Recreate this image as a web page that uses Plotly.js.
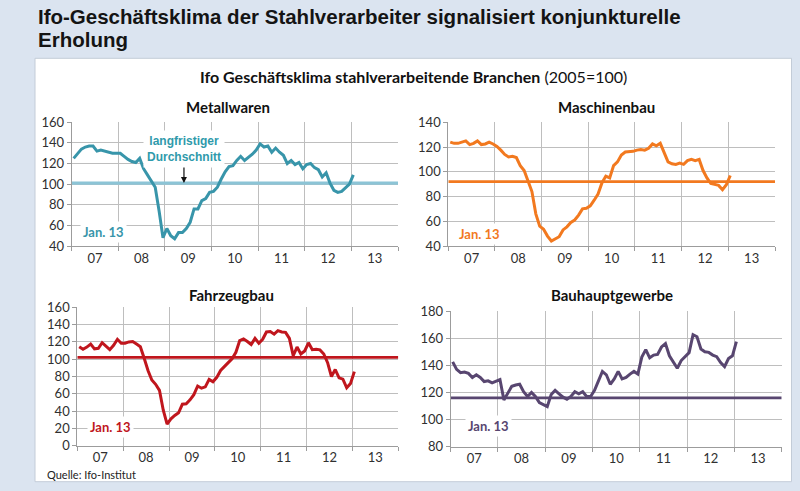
<!DOCTYPE html>
<html><head><meta charset="utf-8">
<script src="https://cdn.plot.ly/plotly-3.0.1.min.js"></script>
<style>html,body{margin:0;padding:0;background:#dbe4f0;} #chart{width:800px;height:491px;}</style>
</head><body><div id="chart"></div>
<script>
// ---- data ----
const yearLabels = ['07','08','09','10','11','12','13'];
const metallwaren = [125,130,134,136,137,137,132,133,132,131,130,130,130,127,124,122,121,125,115,109,103,97,74,48,57,50,47,53,53,57,63,76,76,84,86,92,93,97,105,112,117,118,123,127,123,126,129,133,139,136,137,131,135,131,128,120,123,119,121,115,119,120,116,114,107,111,101,94,92,93,97,100,109];
const maschinenbau = [124,123,123,124,125,122,123,125,122,122.5,124,122.5,120.5,117.5,114,112,112.5,111.5,105,101,93,84,66,56,53.5,48,44,46,47.5,53,55.5,59,61,65,70,70.5,72.5,77,82,91,96.5,95,105,108,113.5,116,116,116.5,117.5,118,117.5,119,122.5,121,123,115,108,106.5,106,107,106,109,110,109,110,101,95,90.5,90,89,85.5,89.5,97];
const fahrzeugbau = [114.5,111.5,114,117.5,112,112.6,119,115,111,116,123,118.5,118.5,120,120.5,117.6,114.5,101,87,76,71,64,41,25,31,35,38,48,48.5,53,59,69,66.5,68,76.7,74,79,87,92,96,100.5,108,121.5,123.5,120.5,117,124,118.5,123,131.5,132,129,133,131.5,131,124,104,114,106,109.5,119,111,111.4,110.8,106,96,80,88,78.5,77,67,72,85.6];
const bauhauptgewerbe = [142.5,137,134.5,135,134,131,133,131,128,128.5,127,128,129.5,114.5,119.5,124.5,125.5,126,120.5,117,120,117,112.5,111,109.5,118.5,121.5,119,116.5,115,117,120.5,119,120.5,117,117,121.5,128.5,135.5,133,126,130,135.5,130,131,133.5,135.5,133.5,146,151.5,145.5,147.5,148,153.5,156,147,142.7,137.8,143.5,146.5,149.3,162.5,161,152,150,149.5,147.5,146.3,142,139,145,147,157.5];
const averages = {metall: 101, maschinen: 92, fahrzeug: 102, bau: 116};
const panelTitles = ['Metallwaren','Maschinenbau','Fahrzeugbau','Bauhauptgewerbe'];
const headingLines = ['Ifo-Geschäftsklima der Stahlverarbeiter signalisiert konjunkturelle','Erholung'];

// ---- helpers ----
const idx = arr => arr.map((v,i)=>i);
const yearCenters = yearLabels.map((l,i)=>i*12+5.5);
const gridC = '#bebebe', axC = '#9c9c9c';
const tickFont = {family:'Lato, Carlito, sans-serif', size:13, color:'#303030'};

function xa(domain, anchor){
  return {domain, anchor, range:[-0.5,83.5], tickmode:'array', tickvals:yearCenters, ticktext:yearLabels,
    ticks:'', showgrid:false, zeroline:false, showline:true, linecolor:axC, linewidth:1, tickfont:tickFont,
    minor:{tickmode:'linear', tick0:-0.5, dtick:12, showgrid:true, gridcolor:gridC, gridwidth:1, ticks:'outside', ticklen:4, tickcolor:axC},
    fixedrange:true};
}
function ya(domain, anchor, range){
  return {domain, anchor, range, tickmode:'linear', tick0:0, dtick:20, ticks:'outside', ticklen:4, tickcolor:axC,
    showline:true, linecolor:axC, linewidth:1, showgrid:true, gridcolor:gridC, gridwidth:1, zeroline:false,
    tickfont:tickFont, fixedrange:true};
}
function series(vals, color, xr, yr){
  return {type:'scatter', mode:'lines', x:idx(vals), y:vals, xaxis:xr, yaxis:yr,
    line:{color, width:3}, hoverinfo:'skip', showlegend:false};
}
function avgLine(val, color, xr, yr, w){
  return {type:'scatter', mode:'lines', x:[-0.5,83.5], y:[val,val], xaxis:xr, yaxis:yr,
    line:{color, width:w||2.8}, hoverinfo:'skip', showlegend:false};
}

const cTeal='#3895aa', cTealLight='#8cc4d6', cOrange='#f2791f', cRed='#c0161d', cPurple='#584670';

const data = [
  avgLine(averages.metall, cTealLight, 'x','y', 3.2),
  series(metallwaren, cTeal, 'x','y'),
  avgLine(averages.maschinen, cOrange, 'x2','y2'),
  series(maschinenbau, cOrange, 'x2','y2'),
  avgLine(averages.fahrzeug, cRed, 'x3','y3'),
  series(fahrzeugbau, cRed, 'x3','y3'),
  avgLine(averages.bau, cPurple, 'x4','y4'),
  series(bauhauptgewerbe, cPurple, 'x4','y4')
];

const W=800, H=491;
const px = v => v/W, py = v => 1 - v/H;

const titleFont = {family:'Lato, Carlito, sans-serif', size:15, color:'#111'};
const janFont = c => ({family:'Lato, Carlito, sans-serif', size:13, color:c});
const headFont = {family:'"Liberation Sans", Arial, sans-serif', size:20.5, color:'#141414'};

function pa(x, y, text, font, extra){
  return Object.assign({xref:'paper', yref:'paper', x:px(x), y:py(y), xanchor:'center', yanchor:'middle',
    showarrow:false, text, font}, extra||{});
}

const layout = {
  width:W, height:H, margin:{l:0,r:0,t:0,b:0},
  paper_bgcolor:'#dbe4f0', plot_bgcolor:'#ffffff', showlegend:false,
  xaxis: xa([px(71.7), px(398)], 'y'),
  yaxis: ya([py(246), py(122.3)], 'x', [40,160]),
  xaxis2: xa([px(448.3), px(775)], 'y2'),
  yaxis2: ya([py(246), py(122.3)], 'x2', [40,140]),
  xaxis3: xa([px(77.3), px(398.3)], 'y3'),
  yaxis3: ya([py(445.7), py(307.3)], 'x3', [0,160]),
  xaxis4: xa([px(450.7), px(781.7)], 'y4'),
  yaxis4: ya([py(446.7), py(311)], 'x4', [80,180]),
  shapes: [
    {type:'rect', xref:'paper', yref:'paper', x0:px(35), x1:px(791.5), y0:py(481.7), y1:py(58.3),
     fillcolor:'#ffffff', line:{color:'#c3ccd8', width:1}, layer:'below'}
  ],
  annotations: [
    pa(36, 17, '<b>'+headingLines[0]+'</b>', headFont, {xanchor:'left'}),
    pa(36, 39, '<b>'+headingLines[1]+'</b>', headFont, {xanchor:'left'}),
    pa(413, 77, '<b>Ifo Geschäftsklima stahlverarbeitende Branchen</b> (2005=100)', {family:'Lato, Carlito, sans-serif', size:16, color:'#111'}),
    pa(228, 107, '<b>'+panelTitles[0]+'</b>', titleFont),
    pa(606, 107, '<b>'+panelTitles[1]+'</b>', titleFont),
    pa(232, 295, '<b>'+panelTitles[2]+'</b>', titleFont),
    pa(612, 295, '<b>'+panelTitles[3]+'</b>', titleFont),
    pa(103, 232, '<b>Jan. 13</b>', janFont(cTeal), {bgcolor:'#ffffff', borderpad:2}),
    pa(479, 234, '<b>Jan. 13</b>', janFont(cOrange), {bgcolor:'#ffffff', borderpad:2}),
    pa(110, 427, '<b>Jan. 13</b>', janFont(cRed), {bgcolor:'#ffffff', borderpad:2}),
    pa(488, 426, '<b>Jan. 13</b>', janFont(cPurple), {bgcolor:'#ffffff', borderpad:2}),
    {xref:'x', yref:'y', x:28.4, y:averages.metall, ax:0, ay:-34, showarrow:true, arrowhead:2, arrowsize:1, arrowwidth:1.2, arrowcolor:'#111',
     text:'<b>langfristiger<br>Durchschnitt</b>', font:{family:'"Liberation Sans", Arial, sans-serif', size:12, color:'#2f9aab'},
     bgcolor:'#ffffff', borderpad:3},
    pa(45, 474, 'Quelle: Ifo-Institut', {family:'Lato, Carlito, sans-serif', size:11, color:'#222'}, {xanchor:'left'})
  ]
};

Plotly.newPlot('chart', data, layout, {displayModeBar:false, staticPlot:true});
</script>
</body></html>
